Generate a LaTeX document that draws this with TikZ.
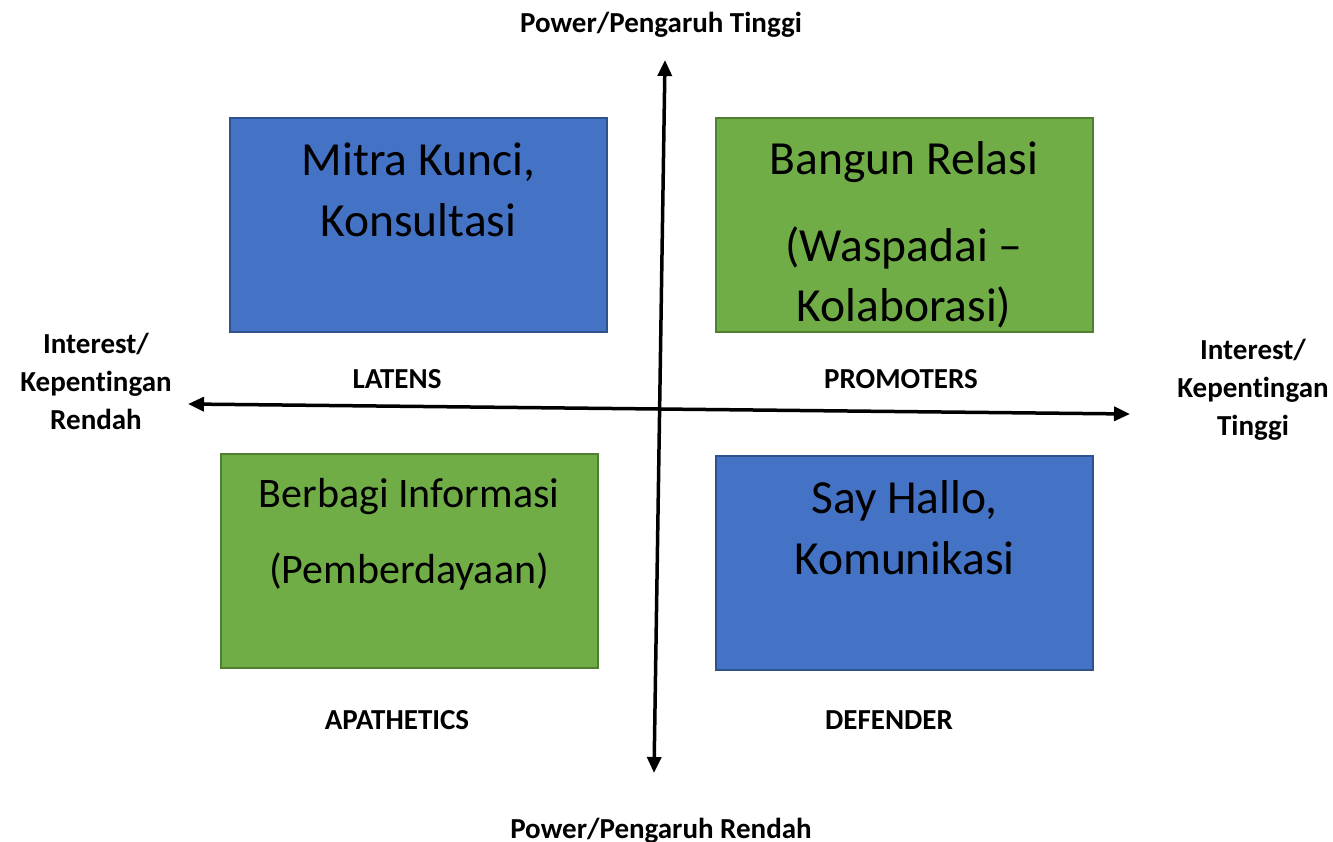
\documentclass[tikz,border=0pt]{standalone}
\usepackage{fontspec}
\setmainfont{Carlito}[Ligatures={NoCommon,TeX}]
\usetikzlibrary{arrows.meta, positioning}
\definecolor{quadblue}{HTML}{4472C4}
\definecolor{quadblueline}{HTML}{2F528F}
\definecolor{quadgreen}{HTML}{70AD47}
\definecolor{quadgreenline}{HTML}{507E32}

\begin{document}
\begin{tikzpicture}[
    x=1pt, y=-1pt,
    quad/.style={rectangle, draw, line width=2pt, minimum width=377pt, minimum height=214pt, inner sep=0pt},
    bluequad/.style={quad, fill=quadblue, draw=quadblueline},
    greenquad/.style={quad, fill=quadgreen, draw=quadgreenline},
    quadtext/.style={align=center, inner sep=0pt, font=\fontsize{47.5}{61}\selectfont},
    axislabel/.style={align=center, inner sep=0pt, font=\bfseries\fontsize{29}{38}\selectfont},
    axis/.style={{Triangle[length=16pt,width=14pt]}-{Triangle[length=16pt,width=14pt]}, line width=3.5pt}
  ]
    \useasboundingbox (0,0) rectangle (1333,842);

    % quadrants
    \node[bluequad]  (tl) at (418.5,225) {};
    \node[greenquad] (tr) at (904,225) {};
    \node[greenquad] (bl) at (409,561) {};
    \node[bluequad]  (br) at (904.5,562.5) {};

    % box texts (anchored at the baseline of their last line)
    \node[quadtext, below=120pt of tl.north, anchor=base] (tltext) {Mitra Kunci,\\Konsultasi};
    \begin{scope}
      \clip ([yshift=1pt]tr.south west) rectangle (tr.north east);
      \node[quadtext, below=205pt of tr.north, anchor=base] (trtext) {Bangun Relasi\\[25pt](Waspadai –\\Kolaborasi)};
    \end{scope}
    \node[quadtext, below=130pt of bl.north, anchor=base, font=\fontsize{42}{52}\selectfont]
          (bltext) {Berbagi Informasi\\[24pt](Pemberdayaan)};
    \node[quadtext, below=120pt of br.north, anchor=base] (brtext) {Say Hallo,\\Komunikasi};

    % axes
    \coordinate (ptop) at (665,60);
    \coordinate (pbot) at (654,773);
    \coordinate (ileft) at (188,404);
    \coordinate (iright) at (1130,414);
    \draw[axis] (pbot) -- (ptop);
    \draw[axis] (ileft) -- (iright);

    \node[axislabel] (hightop) at (661,25) {Power/Pengaruh Tinggi};
    \node[axislabel] (lowbot) at (661,831) {Power/Pengaruh Rendah};
    \node[axislabel] (lowleft) at (96,381) {Interest/\\Kepentingan\\Rendah};
    \node[axislabel] (highright) at (1253,390) {Interest/\\Kepentingan\\Tinggi};

    \node[axislabel] (latens) at (397,379) {LATENS};
    \node[axislabel] (promoters) at (901,379) {PROMOTERS};
    \node[axislabel] (apathetics) at (397,720) {APATHETICS};
    \node[axislabel] (defender) at (889,720) {DEFENDER};
  \end{tikzpicture}
\end{document}
